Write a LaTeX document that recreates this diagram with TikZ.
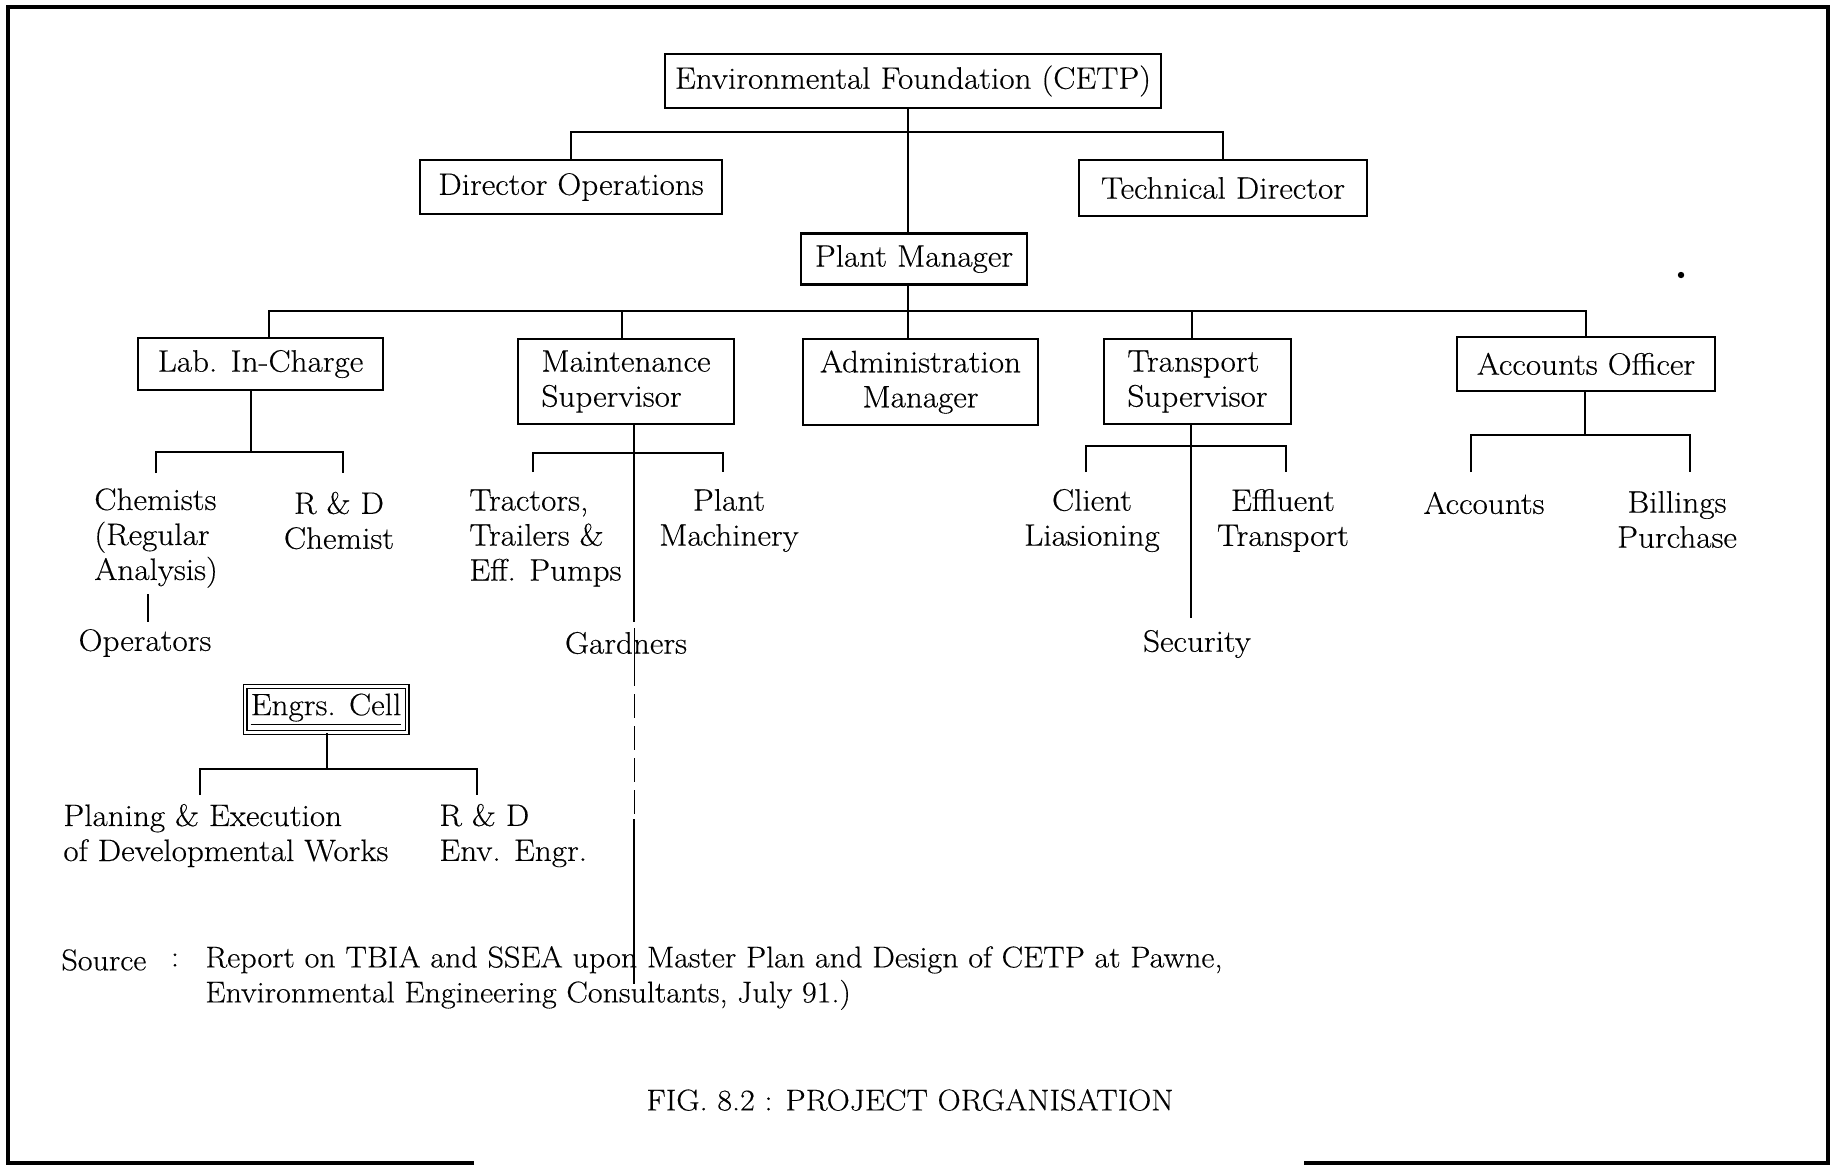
\documentclass[tikz,border=0pt]{standalone}
\usepackage{fontspec}
\setmainfont{Latin Modern Roman}[FakeStretch=1.07, FakeBold=0.35]
\usetikzlibrary{calc}
\begin{document}
\begin{tikzpicture}[x=0.5pt,y=-0.5pt,
  every node/.style={font=\fontsize{15.5}{17.5}\selectfont, inner sep=0pt},
  note/.style={font=\fontsize{15}{17.5}\selectfont},
  box/.style n args={2}{draw, line width=1.2pt, minimum width=#1pt, minimum height=#2pt},
  conn/.style={line width=0.9pt},
  faint/.style={line width=0.5pt}]
\useasboundingbox (0,0) rectangle (1834,1168);
% frame
\draw[line width=1.6pt] (474,1163) -- (8,1163) -- (8,7) -- (1828,7) -- (1828,1163) -- (1304,1163);
% boxes
\node[box={248}{27}] (cetp) at (913,81) {Environmental Foundation (CETP)};
\node[box={151}{27}] (dirop) at (571,187) {Director Operations};
\node[box={144}{28}] (tech) at (1223,188) {Technical Director};
\node[box={113}{25.5}] (pm) at (914,259) {Plant Manager};
\node[box={122.5}{26}] (lab) at (260.5,364) {Lab. In-Charge};
\node[box={108}{42.5}, align=left] (maint) at (626,381.5) {Maintenance\\Supervisor};
\node[box={117.5}{43}, align=center] (admin) at (920.5,382) {Administration\\Manager};
\node[box={93.5}{42.5}, align=left] (trans) at (1197.5,381.5) {Transport\\Supervisor};
\node[box={129}{27}] (acct) at (1586,364) {Accounts Officer};
\node[draw, double, line width=0.7pt, double distance=1.1pt, minimum width=81pt, minimum height=23pt] (engrs) at (326,709.5) {\underline{Engrs. Cell}};
% plain text nodes
\node[align=left, anchor=west] (chem) at (94,538) {Chemists\\(Regular\\Analysis)};
\node[align=center] (rdc) at (339,520.5) {R \& D\\Chemist};
\node (oper) at (145,643) {Operators};
\node[align=left, anchor=west] (tract) at (469,538) {Tractors,\\Trailers \&\\Eff. Pumps};
\node[align=center] (plant) at (729,520.5) {Plant\\Machinery};
\node (gard) at (626,643) {Gardners};
\node[align=center] (client) at (1092,520.5) {Client\\Liasioning};
\node[align=center] (eff) at (1283,520.5) {Effluent\\Transport};
\node (sec) at (1197,644) {Security};
\node (accts) at (1484,503) {Accounts};
\node[align=center] (bill) at (1677,519.5) {Billings\\Purchase};
\node[align=left, anchor=west] (plan) at (63,835.5) {Planing \& Execution\\of Developmental Works};
\node[align=left, anchor=west] (rde) at (439,835.5) {R \& D\\Env. Engr.};
\node[note, anchor=west] (src) at (61,960) {Source};
\node[note] (colon) at (175,960) {:};
\node[note, align=left, anchor=west] (rep) at (205,978) {Report on TBIA and SSEA upon Master Plan and Design of CETP at Pawne,\\Environmental Engineering Consultants, July 91.)};
\node[note] (fig) at (910,1100) {FIG. 8.2 : PROJECT ORGANISATION};
% helper coordinates
\coordinate (mx) at (908,0);
\coordinate (b1) at (0,132);
\coordinate (b2) at (0,311);
\coordinate (labx) at (269,0);
\coordinate (mtx) at (622,0);
\coordinate (trx) at (1192,0);
% main spine
\draw[conn] (cetp.south -| mx) -- (pm.north -| mx);
\draw[conn] (pm.south -| mx) -- (admin.north -| mx);
% director bus
\draw[conn] (dirop.north) -- (dirop.north |- b1) -- (tech.north |- b1) -- (tech.north);
% department bus
\draw[conn] (lab.north -| labx) -- (labx |- b2) -- (acct.north |- b2) -- (acct.north);
\draw[conn] (mtx |- b2) -- (maint.north -| mtx);
\draw[conn] (trx |- b2) -- (trans.north -| trx);
% lab children
\coordinate (lx) at (251,452);
\coordinate (l1) at (156,452); \coordinate (l1e) at (156,473);
\coordinate (l2) at (343,452); \coordinate (l2e) at (343,473);
\draw[conn] (lab.south -| lx) -- (lx);
\draw[conn] (l1e) -- (l1) -- (l2) -- (l2e);
\coordinate (o1) at (148,594); \coordinate (o2) at (148,622);
\draw[conn] (o1) -- (o2);
% maintenance children
\coordinate (g1) at (634,622);
\draw[conn] (maint.south -| g1) -- (g1);
\coordinate (m1) at (533,453); \coordinate (m1e) at (533,472);
\coordinate (m2) at (723,453); \coordinate (m2e) at (723,472);
\draw[conn] (m1e) -- (m1) -- (m2) -- (m2e);
\coordinate (gx1) at (634,628); \coordinate (gx2) at (634,662);
\coordinate (gx3) at (634,819); \coordinate (gx4) at (634,984);
\draw[faint] (gx1) -- (gx2);
\draw[faint, dash pattern=on 12pt off 4pt] (gx2) -- (gx3);
\draw[line width=0.7pt] (gx3) -- (gx4);
% transport children
\coordinate (s1) at (1191,618);
\draw[conn] (trans.south -| s1) -- (s1);
\coordinate (t1) at (1086,446); \coordinate (t1e) at (1086,472);
\coordinate (t2) at (1286,446); \coordinate (t2e) at (1286,472);
\draw[conn] (t1e) -- (t1) -- (t2) -- (t2e);
% accounts children
\coordinate (ax) at (1585,435);
\draw[conn] (acct.south -| ax) -- (ax);
\coordinate (a1) at (1471,435); \coordinate (a1e) at (1471,472);
\coordinate (a2) at (1690,435); \coordinate (a2e) at (1690,472);
\draw[conn] (a1e) -- (a1) -- (a2) -- (a2e);
% engineering cell children
\coordinate (ex) at (327,769);
\draw[conn] (engrs.south -| ex) -- (ex);
\coordinate (e1) at (200,769); \coordinate (e1e) at (200,795);
\coordinate (e2) at (477,769); \coordinate (e2e) at (477,795);
\draw[conn] (e1e) -- (e1) -- (e2) -- (e2e);
% stray dot
\fill (1681,275) circle[radius=1.6pt];
\end{tikzpicture}
\end{document}
